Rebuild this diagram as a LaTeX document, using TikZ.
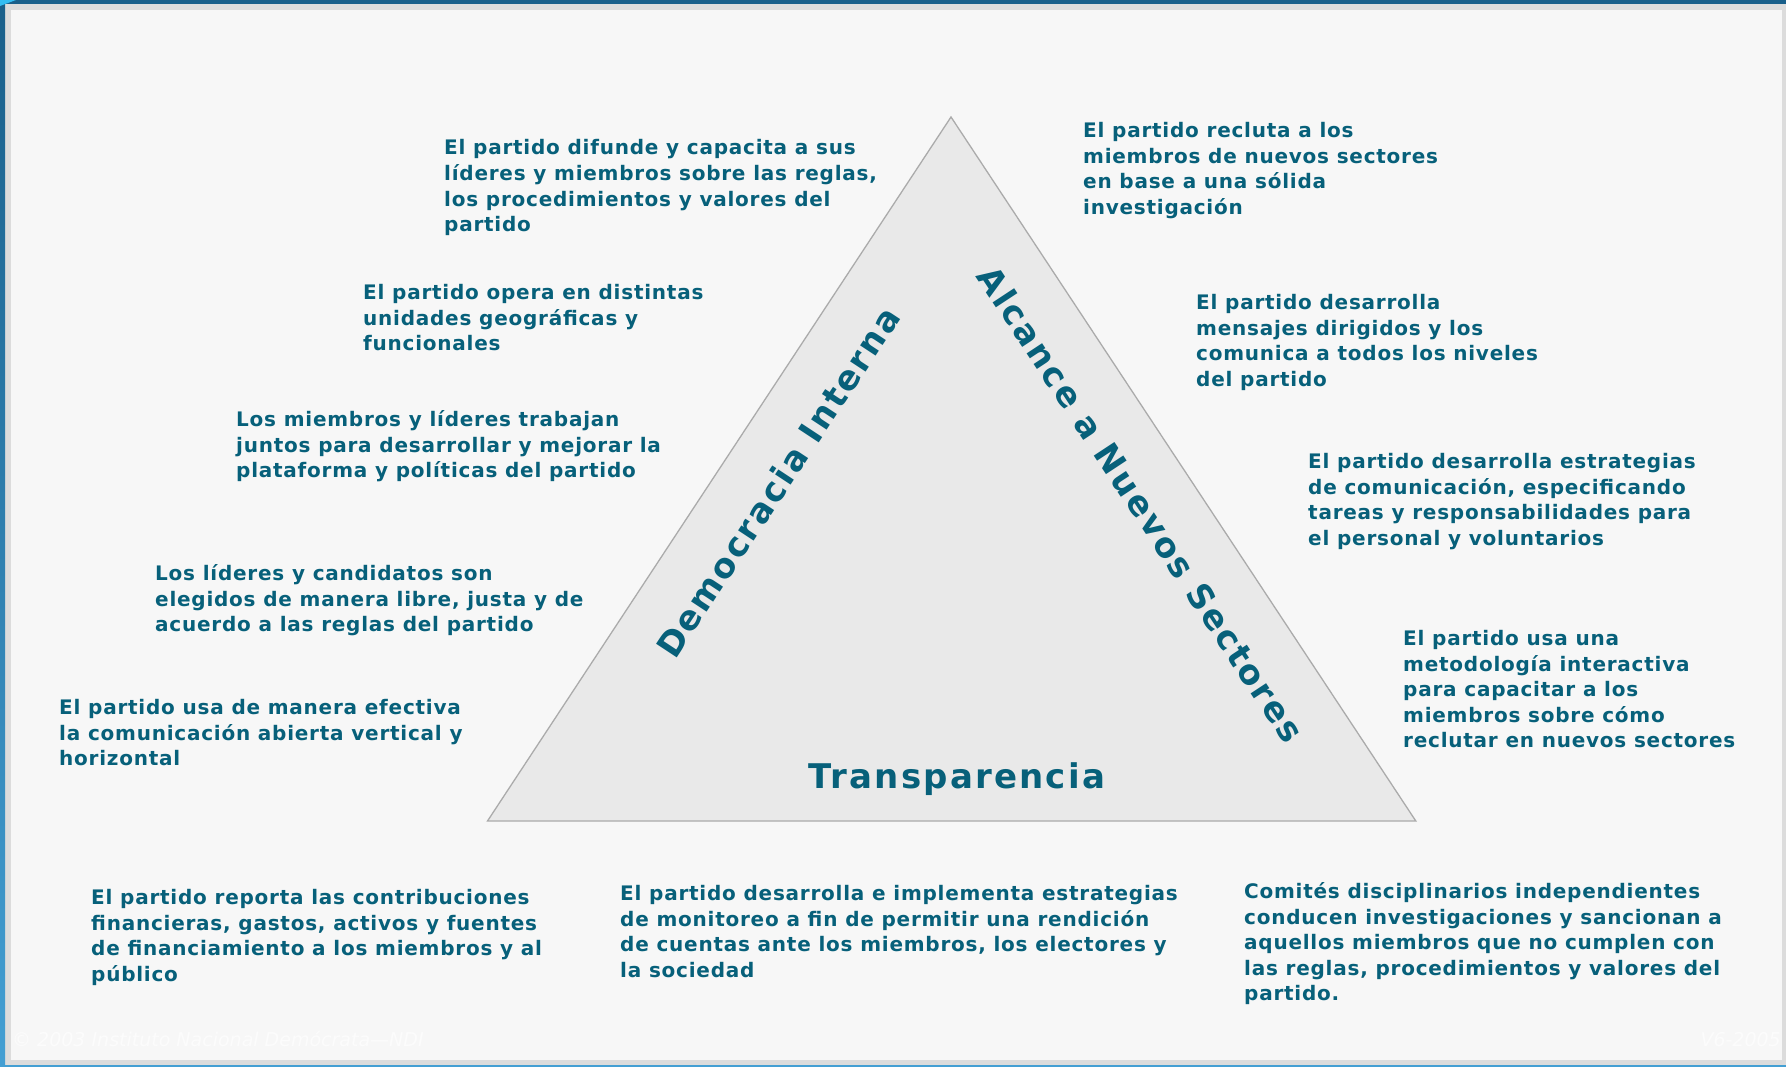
\documentclass[tikz,border=0pt]{standalone}
\usepackage{fontspec}
\setmainfont{DejaVu Sans}[LetterSpace=3.8]
\newfontfamily\bigfont{DejaVu Sans}[LetterSpace=6.5]
\newfontfamily\footfont{DejaVu Sans}
\definecolor{ndiblue}{HTML}{07607A}
\definecolor{trifill}{HTML}{E9E9E9}
\definecolor{tristroke}{HTML}{ABABAB}
\definecolor{panel}{HTML}{F7F7F7}
\definecolor{band}{HTML}{DCDCDC}
\definecolor{topblue}{HTML}{195F8A}
\definecolor{lowblue}{HTML}{449FD3}
\begin{document}
\begin{tikzpicture}[x=1pt,y=-1pt,
  txt/.style={anchor=base west, align=left, inner sep=0pt, text=ndiblue,
    font=\bfseries\fontsize{20}{25.6}\selectfont},
  bigtxt/.style={inner sep=0pt, text=ndiblue, font=\bigfont\bfseries\fontsize{34}{40}\selectfont},
  foot/.style={inner sep=0pt, text=white!98!gray, font=\footfont\itshape\fontsize{19}{24}\selectfont}]
\useasboundingbox (0,0) rectangle (1786,1067);
% frame
\fill[band] (0,0) rectangle (1786,1067);
\fill[topblue] (0,0) rectangle (1786,4);
\shade[top color=topblue, bottom color=lowblue] (0,0) rectangle (5,1067);
\fill[lowblue] (0,1065) rectangle (1786,1067);
\fill[cyan!80!white] (0,0) -- (16,0) -- (0,6) -- cycle;
\fill[panel] (11,10) rectangle (1782,1060);
% triangle
\coordinate (apex) at (951,117);
\coordinate (bl) at (487.5,821);
\coordinate (br) at (1415.8,821);
\draw[fill=trifill, draw=tristroke, line width=1.3pt] (apex) -- (bl) -- (br) -- cycle;
% big labels
\node[bigtxt, rotate=56.6] (dem) at (778,482) {Democracia Interna};
\node[bigtxt, rotate=-56.6] (alc) at (1141,504) {Alcance a Nuevos Sectores};
\node[bigtxt] (tra) at (957,779) {Transparencia};
% left texts
\node[txt] (t1) at (444,231.8) {El partido difunde y capacita a sus\\líderes y miembros sobre las reglas,\\los procedimientos y valores del\\partido};
\node[txt] (t2) at (363,350.7) {El partido opera en distintas\\unidades geográficas y\\funcionales};
\node[txt] (t3) at (236,477.7) {Los miembros y líderes trabajan\\juntos para desarrollar y mejorar la\\plataforma y políticas del partido};
\node[txt] (t4) at (155,631.7) {Los líderes y candidatos son\\elegidos de manera libre, justa y de\\acuerdo a las reglas del partido};
\node[txt] (t5) at (59,765.7) {El partido usa de manera efectiva\\la comunicación abierta vertical y\\horizontal};
% right texts
\node[txt] (t6) at (1083,214.3) {El partido recluta a los\\miembros de nuevos sectores\\en base a una sólida\\investigación};
\node[txt] (t7) at (1196,386.3) {El partido desarrolla\\mensajes dirigidos y los\\comunica a todos los niveles\\del partido};
\node[txt] (t8) at (1308,545.3) {El partido desarrolla estrategias\\de comunicación, especificando\\tareas y responsabilidades para\\el personal y voluntarios};
\node[txt] (t9) at (1403,747.9) {El partido usa una\\metodología interactiva\\para capacitar a los\\miembros sobre cómo\\reclutar en nuevos sectores};
% bottom texts
\node[txt] (t10) at (91,981.3) {El partido reporta las contribuciones\\financieras, gastos, activos y fuentes\\de financiamiento a los miembros y al\\público};
\node[txt] (t11) at (620,977.3) {El partido desarrolla e implementa estrategias\\de monitoreo a fin de permitir una rendición\\de cuentas ante los miembros, los electores y\\la sociedad};
\node[txt] (t12) at (1244,1000.9) {Comités disciplinarios independientes\\conducen investigaciones y sancionan a\\aquellos miembros que no cumplen con\\las reglas, procedimientos y valores del\\partido.};
% footer
\node[foot, anchor=base west] (f1) at (12,1046) {© 2003 Instituto Nacional Demócrata—NDI};
\node[foot, anchor=base east] (f2) at (1781,1046) {V6-2005};
\end{tikzpicture}
\end{document}
